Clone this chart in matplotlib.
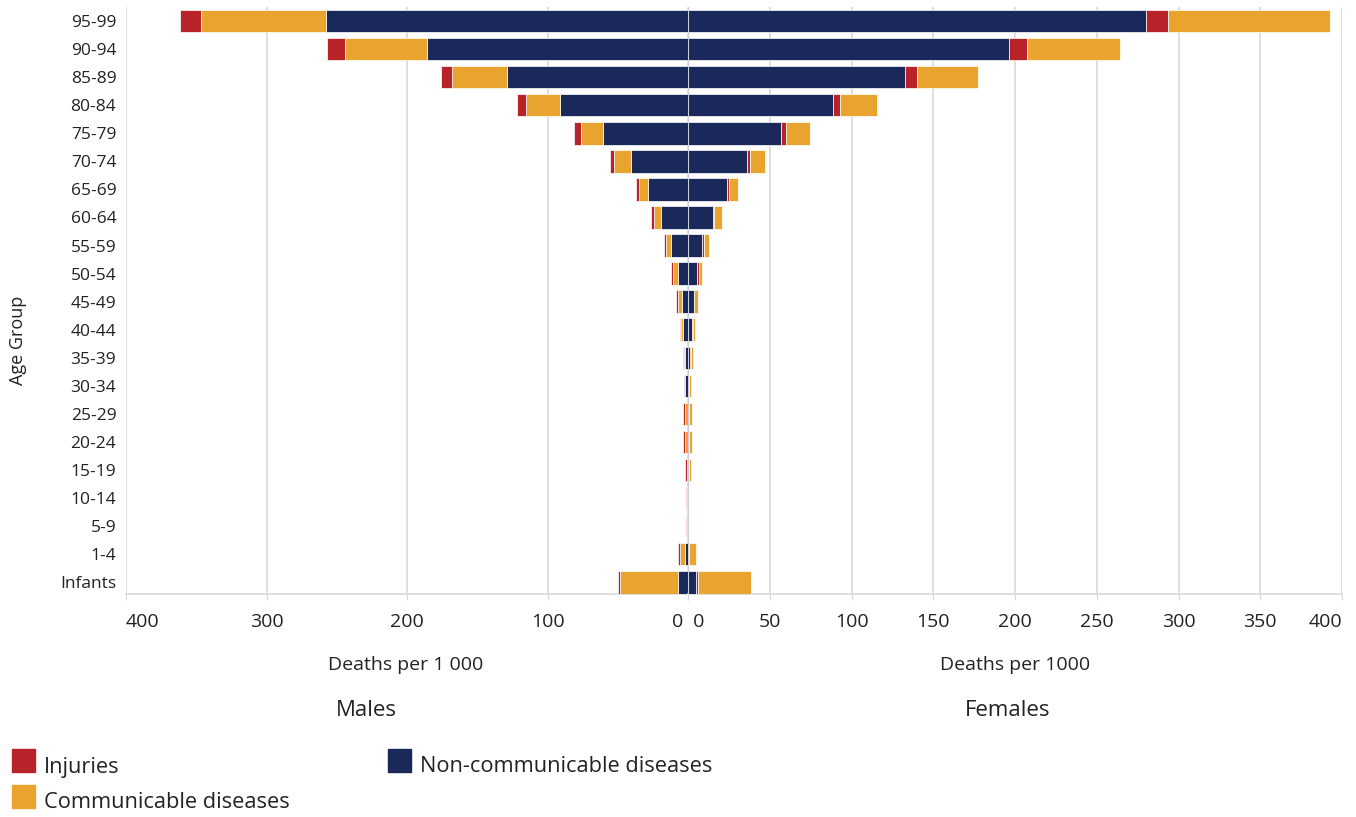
import numpy as np
import matplotlib
matplotlib.use("Agg")
import matplotlib.pyplot as plt
from matplotlib.patches import Rectangle

plt.rcParams['font.family'] = ['Open Sans', 'DejaVu Sans']

ages = ['Infants', '1-4', '5-9', '10-14', '15-19', '20-24', '25-29', '30-34',
        '35-39', '40-44', '45-49', '50-54', '55-59', '60-64', '65-69', '70-74',
        '75-79', '80-84', '85-89', '90-94', '95-99']

# males (deaths per 1 000)
male_ncd = [7.1, 2.1, 0.3, 0.3, 0.2, 0.3, 0.3, 2.0, 2.0, 3.3, 4.5, 6.9, 11.9,
            19.2, 28.7, 40.9, 60.3, 90.9, 128.7, 186.1, 258.0]
male_comm = [41.5, 3.5, 0.3, 0.3, 0.8, 1.8, 1.8, 0.3, 0.6, 1.7, 2.6, 3.8, 3.8,
             5.0, 6.0, 11.8, 16.1, 24.2, 39.0, 58.1, 88.9]
male_inj = [1.2, 1.2, 1.0, 1.0, 1.2, 1.2, 1.2, 0.7, 0.9, 0.9, 1.2, 1.2, 1.2,
            2.4, 2.6, 2.9, 5.0, 6.3, 8.4, 12.4, 14.7]

# females (deaths per 1000)
female_ncd = [4.8, 0.5, 0.1, 0.1, 0.3, 0.4, 0.4, 0.4, 1.0, 2.2, 3.4, 5.7, 8.7,
              15.1, 23.9, 36.2, 56.8, 88.7, 132.5, 196.3, 280.0]
female_inj = [1.3, 0.3, 0.1, 0.1, 0.3, 0.3, 0.3, 0.2, 1.0, 0.8, 0.3, 0.8, 1.0,
              0.5, 1.0, 1.9, 3.1, 4.0, 7.3, 10.8, 13.4]
female_comm = [32.4, 4.3, 0.1, 0.1, 1.0, 1.5, 1.5, 1.2, 1.0, 1.4, 2.4, 2.2, 3.2,
               5.1, 5.8, 9.2, 14.8, 22.9, 37.4, 57.2, 99.3]

male_ticks = [400, 300, 200, 100, 0]
female_ticks = [0, 50, 100, 150, 200, 250, 300, 350, 400]

RED = '#B8232A'
ORANGE = '#E9A42F'
NAVY = '#1A295A'
GRID = '#d9d9d9'
TXT = '#222222'

W, H = 1356, 817
fig = plt.figure(figsize=(W / 100, H / 100), dpi=100)

left, mid, right = 126 / W, 688 / W, 1342 / W
bottom, top = 1 - 593.5 / H, 1 - 7 / H
axL = fig.add_axes([left, bottom, mid - left, top - bottom])
axR = fig.add_axes([mid, bottom, right - mid, top - bottom])

y = np.arange(len(ages))
mn, mc, mi = np.array(male_ncd), np.array(male_comm), np.array(male_inj)
fn, fi, fc = np.array(female_ncd), np.array(female_inj), np.array(female_comm)

kw = dict(height=0.8, edgecolor='white', linewidth=0.5, zorder=3)
axL.barh(y, mn, color=NAVY, **kw)
axL.barh(y, mc, left=mn, color=ORANGE, **kw)
axL.barh(y, mi, left=mn + mc, color=RED, **kw)

axR.barh(y, fn, color=NAVY, **kw)
axR.barh(y, fi, left=fn, color=RED, **kw)
axR.barh(y, fc, left=fn + fi, color=ORANGE, **kw)

axL.set_xlim(400, 0)
axR.set_xlim(0, 400)
for ax in (axL, axR):
    ax.set_ylim(-0.4, 20.5)
    ax.grid(axis='x', color=GRID, linewidth=1.2, zorder=0)
    ax.set_axisbelow(True)
    for s in ('top', 'left', 'right'):
        ax.spines[s].set_visible(False)
    ax.spines['bottom'].set_color(GRID)
    ax.spines['bottom'].set_linewidth(1.2)
    ax.tick_params(axis='x', length=4, color=GRID, pad=10, labelsize=14,
                   labelcolor=TXT)
    ax.tick_params(axis='y', length=0)

axR.axvline(0, color='#c9ced8', linewidth=1.5, zorder=5)

axL.set_xticks(male_ticks)
axL.set_xticklabels([str(t) for t in male_ticks[:-1]] + ['0 '])
axL.get_xticklabels()[0].set_ha('left')
axL.get_xticklabels()[-1].set_ha('right')
axR.set_xticks(female_ticks)
axR.set_xticklabels([' 0'] + [str(t) for t in female_ticks[1:]])
axR.get_xticklabels()[0].set_ha('left')
axR.get_xticklabels()[-1].set_ha('right')

axL.set_yticks(y)
axL.set_yticklabels(ages, fontsize=12.5, color=TXT)
axL.tick_params(axis='y', pad=7)
axR.set_yticks([])

fig.text(18 / W, 1 - 340 / H, 'Age Group', rotation=90, ha='center',
         va='center', fontsize=13, color=TXT)
fig.text(406 / W, 1 - 665 / H, 'Deaths per 1 000', ha='center', va='center',
         fontsize=14, color=TXT)
fig.text(1015 / W, 1 - 665 / H, 'Deaths per 1000', ha='center', va='center',
         fontsize=14, color=TXT)
fig.text(366 / W, 1 - 711 / H, 'Males', ha='center', va='center',
         fontsize=16, color=TXT)
fig.text(1008 / W, 1 - 711 / H, 'Females', ha='center', va='center',
         fontsize=16, color=TXT)

# legend
legend_items = [('Injuries', RED, 12, 749), ('Communicable diseases', ORANGE, 12, 785),
                ('Non-communicable diseases', NAVY, 388, 749)]
for label, col, x0, y0 in legend_items:
    fig.add_artist(Rectangle((x0 / W, 1 - (y0 + 23) / H), 23 / W, 23 / H,
                             transform=fig.transFigure, color=col))
    fig.text((x0 + 32) / W, 1 - (y0 + 18) / H, label, ha='left', va='center',
             fontsize=15.7, color=TXT)

fig.savefig('out.png', dpi=100)
